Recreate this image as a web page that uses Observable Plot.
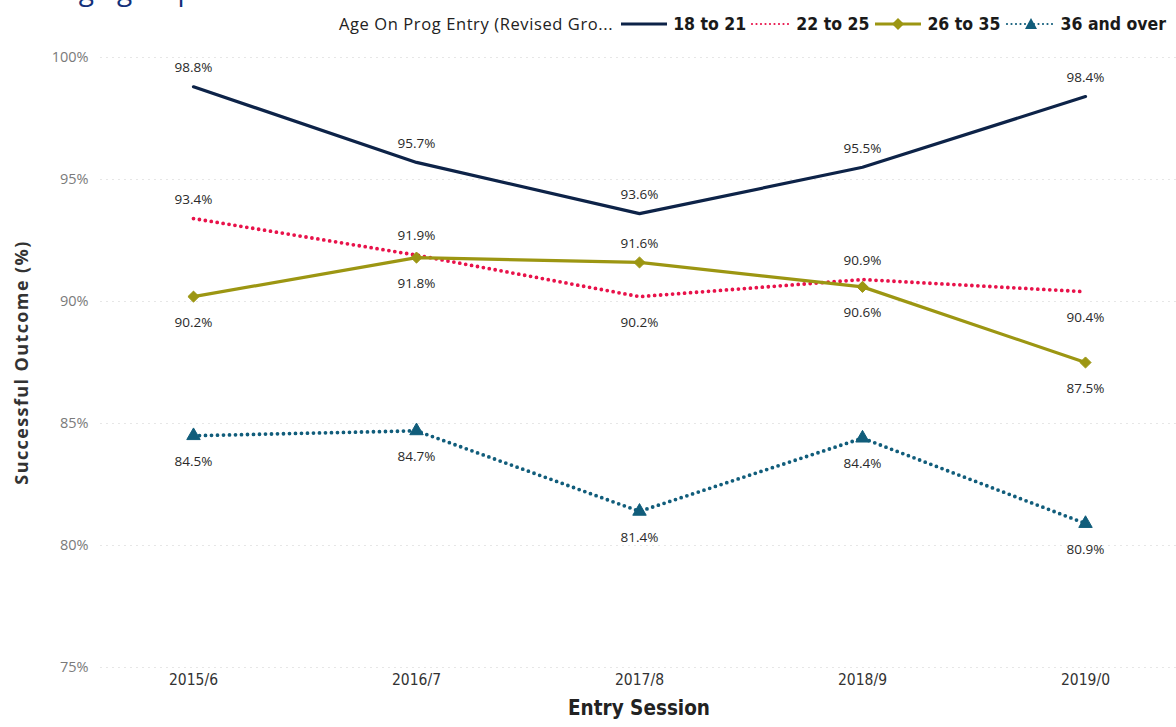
<!DOCTYPE html>
<html>
<head>
<meta charset="utf-8">
<script src="https://cdn.jsdelivr.net/npm/d3@7"></script>
<script src="https://cdn.jsdelivr.net/npm/@observablehq/plot@0.6"></script>
<style>
  html, body { margin: 0; padding: 0; background: #fff; }
  #wrap { position: relative; width: 1176px; height: 727px; overflow: hidden; font-family: "Open Sans", "Noto Sans", sans-serif; }
  #title { position: absolute; left: 61px; top: -25px; font-size: 28px; line-height: 28px; color: #13307a; white-space: nowrap; font-family: "Open Sans", sans-serif; }
  #legend { position: absolute; right: 7px; top: 12px; display: flex; align-items: center; color: #222; white-space: nowrap; }
  #legend .lt { font-family: "Open Sans", sans-serif; font-size: 16.5px; letter-spacing: 0.6px; margin-right: 5px; }
  #legend .item { display: flex; align-items: center; margin-left: 1px; }
  #legend .item span { font-family: "DejaVu Sans Condensed", "DejaVu Sans", sans-serif; font-stretch: condensed; font-weight: bold; font-size: 17.5px; margin-left: 4px; margin-right: 3px; color: #1a1a1a; }
</style>
</head>
<body>
<div id="wrap">
  <div id="title">Age group</div>
  <div id="legend"></div>
  <div id="chart"></div>
</div>
<script>
const sessions = ["2015/6", "2016/7", "2017/8", "2018/9", "2019/0"];
const groups = ["18 to 21", "22 to 25", "26 to 35", "36 and over"];
const values18to21 = [98.8, 95.7, 93.6, 95.5, 98.4];
const values22to25 = [93.4, 91.9, 90.2, 90.9, 90.4];
const values26to35 = [90.2, 91.8, 91.6, 90.6, 87.5];
const values36over = [84.5, 84.7, 81.4, 84.4, 80.9];
const labelSide18to21 = ["above", "above", "above", "above", "above"];
const labelSide22to25 = ["above", "above", "below", "above", "below"];
const labelSide26to35 = ["below", "below", "above", "below", "below"];
const labelSide36over = ["below", "below", "below", "below", "below"];
const yTicks = [75, 80, 85, 90, 95, 100];
const legendTitle = "Age On Prog Entry (Revised Gro...";

const colors = { "18 to 21": "#0d2348", "22 to 25": "#e8124a", "26 to 35": "#9c9612", "36 and over": "#115d7b" };
const dashed = { "18 to 21": null, "22 to 25": "0 6", "26 to 35": null, "36 and over": "0 6" };
const symbols = { "18 to 21": null, "22 to 25": null, "26 to 35": "diamond2", "36 and over": "triangle" };
const swatchWidth = { "18 to 21": 50, "22 to 25": 42, "26 to 35": 50, "36 and over": 52 };

const seriesVals = [values18to21, values22to25, values26to35, values36over];
const seriesSides = [labelSide18to21, labelSide22to25, labelSide26to35, labelSide36over];
const data = [];
groups.forEach((g, gi) => sessions.forEach((s, i) => data.push({ group: g, session: s, value: seriesVals[gi][i], side: seriesSides[gi][i] })));

const condensed = "DejaVu Sans Condensed, DejaVu Sans, sans-serif";

const marks = [
  Plot.gridY(yTicks, { stroke: "#c8c8c8", strokeOpacity: 1, strokeWidth: 1.2, strokeDasharray: "0 6", strokeLinecap: "round" }),
  Plot.axisY(yTicks, { tickSize: 0, tickPadding: 13, tickFormat: d => d + "%", fontSize: 14.5, fill: "#7a7a7a", label: null }),
  Plot.axisX(sessions, { tickSize: 0, tickPadding: 6, fontSize: 15.5, fill: "#333", label: null, fontFamily: condensed }),
  Plot.text(["Entry Session"], { frameAnchor: "bottom", dy: 47, fontSize: 20.5, fontWeight: "bold", fill: "#222", fontFamily: condensed }),
  Plot.text(["Successful Outcome (%)"], { frameAnchor: "left", textAnchor: "middle", dx: -79, rotate: -90, fontSize: 18, fontWeight: "bold", fill: "#333", fontFamily: "Open Sans, sans-serif" })
];

groups.forEach(g => {
  const d = data.filter(r => r.group === g);
  marks.push(Plot.line(d, { x: "session", y: "value", stroke: colors[g], strokeWidth: dashed[g] ? 3.8 : 3.2, strokeDasharray: dashed[g], strokeLinecap: "round", strokeLinejoin: "round" }));
  if (symbols[g]) marks.push(Plot.dot(d, { x: "session", y: "value", symbol: symbols[g], fill: colors[g], stroke: colors[g], strokeWidth: 1, r: 5 }));
});
groups.forEach(g => {
  const d = data.filter(r => r.group === g);
  marks.push(Plot.text(d.filter(r => r.side === "above"), { x: "session", y: "value", text: r => r.value.toFixed(1) + "%", dy: -19, fontSize: 13.5, fill: "#2a2a2a" }));
  marks.push(Plot.text(d.filter(r => r.side === "below"), { x: "session", y: "value", text: r => r.value.toFixed(1) + "%", dy: 26, fontSize: 13.5, fill: "#2a2a2a" }));
});

const chart = Plot.plot({
  width: 1176,
  height: 727,
  marginTop: 57,
  marginBottom: 60,
  marginLeft: 101,
  marginRight: 0,
  style: { fontFamily: "Open Sans, sans-serif" },
  x: { type: "point", domain: sessions, padding: 0.4 },
  y: { domain: [75, 100] },
  marks
});
document.getElementById("chart").appendChild(chart);
// letter spacing on the rotated y-axis title
chart.querySelectorAll("text").forEach(t => {
  if (t.textContent === "Successful Outcome (%)") t.setAttribute("letter-spacing", "1.4");
});

// legend
const legend = document.getElementById("legend");
const lt = document.createElement("span");
lt.className = "lt";
lt.textContent = legendTitle;
legend.appendChild(lt);
groups.forEach(g => {
  const item = document.createElement("div");
  item.className = "item";
  const ns = "http://www.w3.org/2000/svg";
  const sw = document.createElementNS(ns, "svg");
  const w = swatchWidth[g];
  sw.setAttribute("width", w); sw.setAttribute("height", 16);
  const ln = document.createElementNS(ns, "line");
  ln.setAttribute("x1", 2); ln.setAttribute("x2", w - 2); ln.setAttribute("y1", 8); ln.setAttribute("y2", 8);
  ln.setAttribute("stroke", colors[g]);
  ln.setAttribute("stroke-width", dashed[g] ? 2.2 : 3);
  if (dashed[g]) { ln.setAttribute("stroke-dasharray", "0 4.5"); ln.setAttribute("stroke-linecap", "round"); }
  sw.appendChild(ln);
  const c = w / 2;
  if (symbols[g] === "diamond2") {
    const p = document.createElementNS(ns, "path");
    p.setAttribute("d", `M${c},2 L${c + 6},8 L${c},14 L${c - 6},8 Z`); p.setAttribute("fill", colors[g]);
    sw.appendChild(p);
  } else if (symbols[g] === "triangle") {
    const p = document.createElementNS(ns, "path");
    p.setAttribute("d", `M${c},2 L${c + 6},13 L${c - 6},13 Z`); p.setAttribute("fill", colors[g]);
    sw.appendChild(p);
  }
  item.appendChild(sw);
  const t = document.createElement("span");
  t.textContent = g;
  item.appendChild(t);
  legend.appendChild(item);
});
</script>
</body>
</html>
